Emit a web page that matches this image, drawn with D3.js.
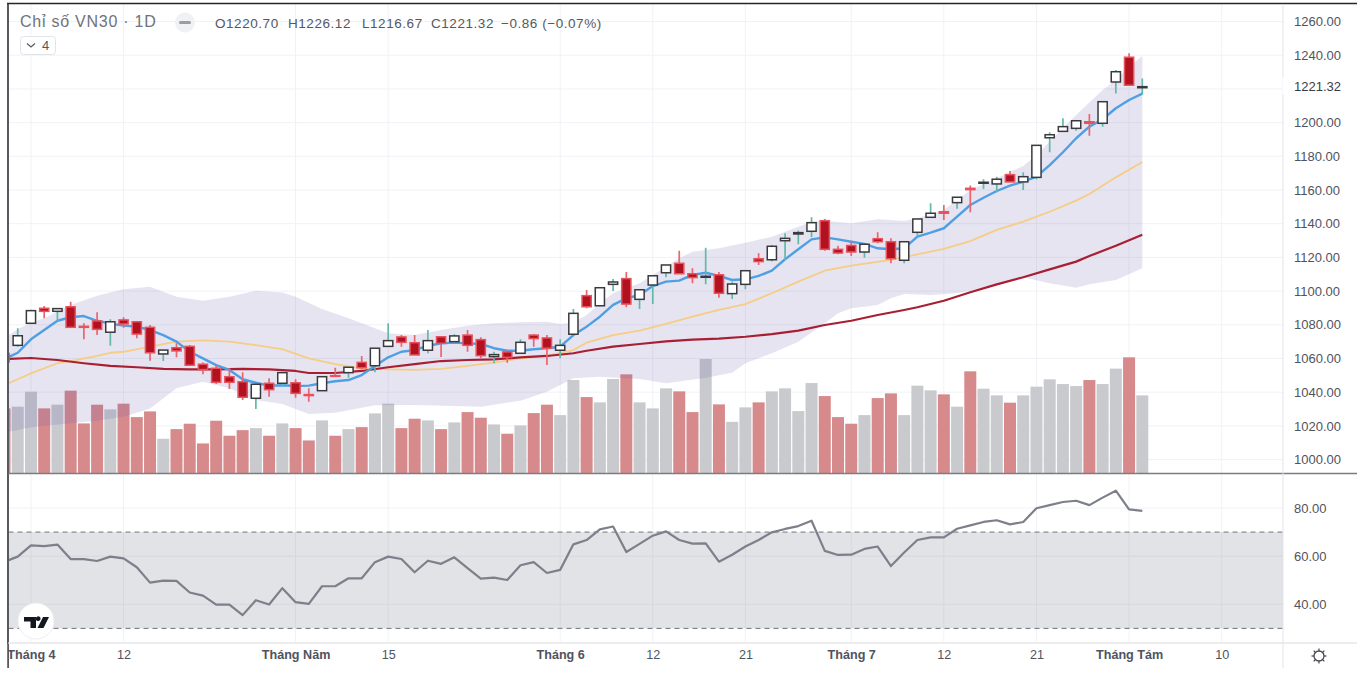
<!DOCTYPE html>
<html>

<head>
	<title>Chỉ số VN30</title>
	<style>
		html, body { margin: 0; padding: 0; background: #fff; overflow: hidden; }
		text { font-family: "Liberation Sans", Arial, sans-serif; }
	</style>
</head>

<body>
	<svg id="svg" width="1357" height="673"></svg>

	<script src="https://d3js.org/d3.v7.min.js"></script>
	<script>
		// Candles, index 0 is the session cut off by the left edge
		const opens = [1063,1067.8,1080.9,1089.8,1088.0,1090.7,1079.1,1082.3,1075.6,1082.9,1081.8,1078.5,1062.7,1066.4,1067.2,1056.6,1054.2,1049.2,1046.2,1036.4,1045.3,1045.3,1045.6,1038.6,1040.9,1049.8,1051.6,1057.7,1055.7,1067.2,1072.8,1069.4,1064.9,1072.9,1070.0,1073.9,1071.2,1061.1,1063.9,1063.1,1073.9,1072.2,1064.9,1074.4,1097.3,1091.3,1104.0,1107.4,1095.1,1103.6,1110.9,1116.5,1110.3,1108.2,1109.7,1098.5,1104.0,1119.2,1118.6,1129.9,1133.9,1135.5,1141.8,1124.8,1127.1,1123.2,1131.1,1129.3,1118.3,1134.9,1143.8,1147.1,1152.5,1161.0,1164.0,1163.6,1169.1,1164.8,1167.5,1191.0,1194.8,1196.6,1200.5,1199.6,1224.1,1238.8,1220.70]
		const highs = [1065,1077.9,1089.0,1091.2,1089.6,1093.7,1080.9,1087.4,1083.3,1084.5,1081.8,1079.9,1065.0,1069.0,1068.0,1057.7,1055.6,1054.2,1051.8,1044.7,1048.3,1051.6,1047.7,1042.3,1049.6,1054.5,1054.8,1061.5,1066.1,1080.9,1073.9,1073.9,1076.9,1072.9,1074.4,1076.9,1072.6,1064.0,1065.0,1071.4,1074.5,1073.9,1071.4,1089.4,1100.7,1102.3,1107.2,1111.3,1100.8,1109.1,1115.5,1124.0,1113.5,1125.8,1111.3,1105.6,1112.1,1122.4,1127.4,1134.3,1135.9,1143.8,1142.8,1126.9,1129.9,1127.8,1134.9,1131.3,1129.3,1142.8,1152.1,1151.1,1155.7,1162.6,1166.4,1167.9,1171.3,1170.5,1186.5,1194.3,1202.6,1201.1,1205.1,1212.4,1231.2,1241.1,1226.12]
		const lows = [1056,1067.0,1080.5,1083.9,1082.4,1078.5,1071.4,1073.9,1067.6,1078.3,1072.0,1058.7,1058.5,1060.7,1056.0,1050.6,1044.9,1041.9,1035.4,1030.0,1037.3,1043.7,1036.7,1034.4,1040.9,1049.2,1048.6,1053.6,1051.8,1067.2,1067.0,1062.1,1063.1,1060.9,1069.0,1064.0,1060.1,1057.2,1057.5,1063.1,1067.0,1056.1,1060.1,1074.4,1089.8,1091.0,1100.1,1090.4,1089.4,1092.3,1108.2,1110.3,1104.6,1104.0,1096.1,1095.3,1101.1,1115.5,1117.5,1118.5,1127.8,1131.9,1124.0,1121.8,1120.8,1119.8,1128.4,1116.5,1116.5,1132.9,1143.8,1142.2,1148.9,1146.8,1160.6,1158.6,1164.8,1160.0,1166.4,1182.4,1194.8,1195.2,1192.2,1197.6,1217.2,1221.9,1216.67]
		const closes = [1058,1073.5,1088.4,1088.0,1089.6,1078.5,1078.5,1077.3,1081.8,1080.5,1074.5,1063.4,1065.0,1064.5,1056.0,1053.4,1045.9,1045.9,1037.0,1044.7,1041.5,1051.6,1039.3,1038.0,1049.2,1049.4,1054.8,1054.5,1066.1,1070.6,1069.6,1062.1,1070.6,1069.0,1073.4,1067.8,1061.7,1062.3,1060.7,1069.6,1071.8,1066.1,1067.8,1086.8,1090.7,1102.0,1105.4,1092.3,1100.8,1109.1,1115.5,1110.3,1108.0,1108.8,1098.7,1104.2,1112.1,1117.5,1126.6,1131.3,1134.7,1140.6,1124.8,1122.6,1123.2,1127.8,1129.3,1119.2,1129.3,1142.8,1146.2,1146.2,1155.7,1160.2,1164.6,1166.4,1164.8,1167.9,1186.5,1192.8,1197.6,1201.1,1199.6,1212.4,1230.2,1222.18,1221.32]

		// Volume, relative units
		const volumes = [65,66.7,81.7,65,68.7,82.7,50,68.7,64,69.7,56.3,62,34.7,44.3,49.7,30,52.7,37.7,43.3,45.3,37.7,50,45.3,33,53,37.7,44.3,46.3,60,69.7,45.3,54.7,53,44.3,51,61.3,55.7,49,39.7,48,60.3,68.7,58.3,93.3,76.3,71,94.3,99,71,65,85,82,61.3,114.3,69,51.6,66,71,82,85,62.3,90.3,77.3,56.3,49.7,58.3,75.3,80,58.3,87.7,83,79,66.7,102,84.7,78,70.7,78,86.7,94,89.3,87.3,93.3,89.3,104.7,116,78]

		// Fast moving average, one value per session
		const maFast = [1059.7,1063.4,1071.4,1076.9,1082.4,1084.5,1085.2,1082.4,1080.7,1079.5,1078.9,1076.9,1073.9,1070.0,1064.0,1060.1,1056.1,1053.2,1047.7,1045.6,1043.9,1044.1,1043.7,1043.9,1045.3,1046.5,1047.2,1050.2,1055.6,1060.7,1064.0,1065.0,1067.6,1069.0,1069.4,1069.0,1068.6,1066.1,1064.6,1064.6,1065.5,1066.1,1067.0,1073.9,1078.9,1084.8,1091.8,1095.7,1097.7,1103.0,1105.6,1106.2,1109.6,1110.9,1109.0,1106.6,1107.0,1109.0,1112.1,1118.9,1124.8,1130.7,1131.9,1130.7,1129.3,1128.0,1125.4,1124.8,1125.4,1132.3,1134.7,1137.3,1144.2,1151.1,1155.4,1159.4,1162.6,1164.9,1167.9,1174.8,1182.4,1190.7,1197.6,1202.0,1208.5,1213.4,1217.2]

		// Slower averages and the band, read at the sessions listed beside them
		const maMidIdx = [0,1,2,3,4,5,7,8,9,11,13,15,17,19,21,23,25,27,29,31,33,35,37,39,41,43,44,46,48,50,52,54,56,58,60,62,64,67,69,71,73,75,77,79,81,82,84,86]
		const maMid = [1044.3,1047.7,1051.2,1054.2,1057.2,1058.5,1061.5,1063.4,1064.0,1067.0,1070.0,1070.8,1070.0,1068.0,1065.6,1060.1,1056.7,1054.2,1053.6,1053.2,1053.9,1055.6,1057.5,1060.1,1061.5,1065.0,1069.4,1073.9,1076.5,1080.5,1084.8,1088.8,1092.3,1098.7,1105.6,1112.1,1115.1,1118.5,1121.8,1125.0,1129.7,1136.3,1141.2,1147.1,1153.7,1157.6,1167.5,1176.6]

		const maSlowIdx = [0,2,4,6,8,10,12,14,16,18,20,22,23,25,27,29,31,33,35,37,39,41,43,44,46,48,50,52,54,56,58,60,62,64,66,68,69,71,73,75,77,79,81,82,84,86]
		const maSlow = [1059.7,1060.3,1059.1,1057.2,1055.6,1054.8,1053.8,1053.6,1053.6,1053.8,1053.6,1052.6,1051.4,1051.4,1052.6,1054.8,1056.7,1058.5,1059.1,1059.5,1060.7,1061.5,1063.1,1064.6,1067.0,1068.6,1070.2,1071.2,1071.8,1072.9,1074.5,1076.5,1079.9,1082.4,1085.8,1088.8,1090.4,1094.3,1099.3,1104.0,1108.2,1112.9,1117.5,1120.8,1126.9,1133.5]

		const bandUpIdx = [0,1,2,3,4,5,7,9,11,13,15,17,19,21,22,24,26,28,29,31,33,35,37,39,41,42,43,44,45,46,48,50,51,52,54,56,58,60,61,62,64,66,68,69,71,73,75,77,78,80,81,83,84,85,86]
		const bandUp = [1072.2,1077.3,1081.3,1083.9,1087.8,1091.8,1097.3,1101.1,1102.6,1096.7,1094.3,1096.7,1100.2,1099.1,1096.7,1089.4,1083.9,1077.9,1075.0,1073.9,1076.9,1079.5,1080.9,1081.5,1081.8,1080.5,1081.3,1085.8,1092.8,1098.7,1104.6,1114.5,1119.5,1123.4,1125.4,1128.7,1132.3,1138.2,1141.2,1141.8,1140.2,1142.6,1141.6,1143.2,1148.1,1160.0,1167.0,1174.3,1180.8,1196.6,1204.5,1219.4,1225.3,1233.2,1239.5]

		const bandLowIdx = [0,2,5,7,9,11,13,15,17,19,21,23,25,28,31,34,36,39,41,43,45,48,50,53,55,56,58,60,62,63,64,65,66,67,68,70,72,74,76,77,79,81,82,84,86]
		const bandLow = [1016.0,1019.2,1021.5,1023.1,1025.5,1030.4,1042.3,1046.2,1042.3,1035.4,1033.0,1027.1,1027.8,1032.2,1032.4,1031.8,1031.4,1035.0,1040.3,1048.3,1049.2,1047.8,1045.3,1048.6,1051.6,1057.2,1063.1,1070.0,1080.9,1086.8,1089.8,1090.7,1091.8,1095.7,1098.3,1097.7,1098.7,1101.7,1105.6,1108.2,1104.6,1102.0,1104.0,1106.6,1113.5]

		// RSI pane
		const rsi = [57.7,59.8,64.5,64.2,64.8,58.8,58.8,58.0,59.8,59.1,55.4,49.0,49.8,49.7,44.9,43.6,39.9,39.9,35.5,41.7,39.9,46.7,40.9,40.2,47.5,47.5,50.8,50.8,57.5,59.8,58.8,53.3,58.1,56.8,59.5,55.0,50.7,51.1,50.1,56.2,57.5,53.0,54.3,64.9,66.7,71.1,72.3,61.7,65.1,68.5,70.3,66.7,65.2,65.3,57.7,60.6,64.0,66.7,69.9,71.3,72.5,74.7,62.2,60.5,60.6,63.0,64.0,55.9,61.5,66.7,67.8,67.8,71.4,72.8,74.2,74.9,73.2,74.2,79.9,81.2,82.5,83.0,81.2,84.3,87.2,79.4,78.8]

		// Axis labels
		const priceTicks = [1000,1020,1040,1060,1080,1100,1120,1140,1160,1180,1200,1240,1260]
		const rsiTicks = [40,60,80]
		const rsiLevels = [70,30]
		const timeIdx = [2,9,22,29,42,49,56,64,71,78,85,92]
		const timeLabels = ['Tháng 4','12','Tháng Năm','15','Tháng 6','12','21','Tháng 7','12','21','Tháng Tám','10']
		const lastPrice = 1221.32

		const left = 8.5, right = 1283, paneBottom = 473.5, axisTop = 643

		const x = d3.scaleLinear().domain([0, 86]).range([4.5, 1142.3])
		const y = d3.scaleLinear().domain([1000, 1260]).range([459.6, 21.5])
		const yVol = d3.scaleLinear().domain([0, 116]).range([paneBottom, 357.3])
		const yRsi = d3.scaleLinear().domain([40, 80]).range([604.3, 508])

		const svg = d3.select('#svg')
		const defs = svg.append('defs')
		defs.append('clipPath').attr('id', 'plot').append('rect')
			.attr('x', left + 0.5).attr('y', 4).attr('width', right - left - 0.5).attr('height', paneBottom - 4)
		defs.append('clipPath').attr('id', 'plot2').append('rect')
			.attr('x', left + 0.5).attr('y', paneBottom).attr('width', right - left - 0.5).attr('height', axisTop - paneBottom)

		// Grid
		const grid = svg.append('g').attr('stroke', '#f0f2f6').attr('stroke-width', 1)
		grid.selectAll('.gy').data(priceTicks.concat([1220])).join('line')
			.attr('x1', left).attr('x2', right).attr('y1', d => y(d)).attr('y2', d => y(d))
		grid.selectAll('.gr').data(rsiTicks).join('line')
			.attr('x1', left).attr('x2', right).attr('y1', d => yRsi(d)).attr('y2', d => yRsi(d))
		grid.selectAll('.gx').data(timeIdx).join('line')
			.attr('x1', d => x(d)).attr('x2', d => x(d)).attr('y1', 4).attr('y2', axisTop)

		// Volume bars sit under the band
		const price = svg.append('g').attr('clip-path', 'url(#plot)')
		price.selectAll('.vol').data(volumes).join('rect')
			.attr('x', (d, i) => x(i) - 6).attr('width', 12)
			.attr('y', d => yVol(d)).attr('height', d => paneBottom - yVol(d))
			.attr('fill', (d, i) => closes[i] < opens[i] ? '#d78a8c' : '#c8cacd')

		// Bollinger band
		const ptLine = d3.line().x(d => x(d[0])).y(d => y(d[1]))
		const upPts = bandUpIdx.map((d, i) => [d, bandUp[i]])
		const lowPts = bandLowIdx.map((d, i) => [d, bandLow[i]]).reverse()
		price.append('path').attr('d', ptLine(upPts.concat(lowPts)) + 'Z')
			.attr('fill', 'rgb(98,84,170)').attr('fill-opacity', 0.16)

		// Moving averages
		function drawMa(idx, vals, color, w) {
			price.append('path').attr('d', ptLine(idx.map((d, i) => [d, vals[i]])))
				.attr('fill', 'none').attr('stroke', color).attr('stroke-width', w)
				.attr('stroke-linejoin', 'round')
		}
		drawMa(maMidIdx, maMid, '#f5cd84', 1.8)
		drawMa(maSlowIdx, maSlow, '#a81f33', 2.2)
		drawMa(maFast.map((d, i) => i), maFast, '#4f9fe4', 2.4)

		// Last price dotted line
		price.append('line').attr('x1', left).attr('x2', right)
			.attr('y1', y(lastPrice)).attr('y2', y(lastPrice))
			.attr('stroke', '#fff').attr('stroke-width', 1).attr('stroke-dasharray', '1 2')

		// Candles
		const candle = price.selectAll('.candle').data(opens.map((d, i) => i)).join('g')
		candle.append('line')
			.attr('x1', i => x(i)).attr('x2', i => x(i))
			.attr('y1', i => y(highs[i])).attr('y2', i => y(lows[i]))
			.attr('stroke', i => closes[i] < opens[i] ? '#ea6570' : '#62b9ab')
			.attr('stroke-width', 1.7)
		candle.append('rect')
			.attr('x', i => x(i) - 4.6).attr('width', 9.2)
			.attr('y', i => y(Math.max(opens[i], closes[i])))
			.attr('height', i => Math.max(0.6, Math.abs(y(opens[i]) - y(closes[i]))))
			.attr('fill', i => closes[i] < opens[i] ? '#b2121f' : '#fff')
			.attr('stroke', i => closes[i] < opens[i] ? '#e8535e' : '#3a3a3e')
			.attr('stroke-width', 1.5)

		// RSI pane
		const rsiG = svg.append('g').attr('clip-path', 'url(#plot2)')
		rsiG.append('rect')
			.attr('x', left).attr('width', right - left)
			.attr('y', yRsi(rsiLevels[0])).attr('height', yRsi(rsiLevels[1]) - yRsi(rsiLevels[0]))
			.attr('fill', '#707582').attr('fill-opacity', 0.2)
		rsiG.selectAll('.level').data(rsiLevels).join('line')
			.attr('x1', left).attr('x2', right).attr('y1', d => yRsi(d)).attr('y2', d => yRsi(d))
			.attr('stroke', '#6f7380').attr('stroke-width', 1).attr('stroke-dasharray', '5 4')
		rsiG.append('path')
			.attr('d', d3.line().x((d, i) => x(i)).y(d => yRsi(d))(rsi))
			.attr('fill', 'none').attr('stroke', '#7d7f8b').attr('stroke-width', 2.2)
			.attr('stroke-linejoin', 'round')

		// Frame
		const frame = svg.append('g')
		frame.append('line').attr('x1', 7).attr('x2', 1357).attr('y1', 3.5).attr('y2', 3.5).attr('stroke', '#26262b').attr('stroke-width', 1.5)
		frame.append('line').attr('x1', 8).attr('x2', 8).attr('y1', 3).attr('y2', 668).attr('stroke', '#2f3038').attr('stroke-width', 1.6)
		frame.append('line').attr('x1', left).attr('x2', 1357).attr('y1', paneBottom).attr('y2', paneBottom).attr('stroke', '#7c7d84').attr('stroke-width', 1.5)
		frame.append('line').attr('x1', left).attr('x2', 1357).attr('y1', axisTop).attr('y2', axisTop).attr('stroke', '#ededf0').attr('stroke-width', 2)
		frame.append('line').attr('x1', right).attr('x2', right).attr('y1', 4).attr('y2', 668).attr('stroke', '#e2e3e8').attr('stroke-width', 1)

		// Price axis
		function styleAxis(g, size) {
			g.select('.domain').remove()
			g.selectAll('.tick line').remove()
			g.selectAll('.tick text').attr('fill', '#50535e').style('font-size', size + 'px')
		}
		svg.append('g').attr('transform', `translate(${1294 - 3},0)`)
			.call(d3.axisRight(y).tickValues(priceTicks).tickFormat(d3.format('.2f')).tickSize(0))
			.call(g => styleAxis(g, 13))
		svg.append('g').attr('transform', `translate(${1294 - 3},0)`)
			.call(d3.axisRight(yRsi).tickValues(rsiTicks).tickFormat(d3.format('.2f')).tickSize(0))
			.call(g => styleAxis(g, 13))

		// Last price label
		svg.append('rect').attr('x', right - 0.5).attr('width', 74).attr('y', y(lastPrice) - 9.5).attr('height', 17).attr('fill', '#fff')
		svg.append('text').attr('x', 1294).attr('y', y(lastPrice) + 4.5).text(d3.format('.2f')(lastPrice))
			.attr('fill', '#3a3d47').style('font-size', '13px')

		// Time axis
		const timeG = svg.append('g').attr('transform', `translate(0,${axisTop + 1})`)
			.call(d3.axisBottom(x).tickValues(timeIdx).tickFormat((d, i) => timeLabels[i]).tickSize(0).tickPadding(6))
			.call(g => styleAxis(g, 12.6))
		timeG.selectAll('.tick text')
			.attr('font-weight', (d, i) => timeLabels[i].startsWith('Tháng') ? 'bold' : 'normal')
		svg.append('rect').attr('x', 0).attr('y', 644).attr('width', 7.2).attr('height', 29).attr('fill', '#fff')

		// Legend
		const legend = svg.append('g')
		legend.append('text').attr('x', 20).attr('y', 27).text('Chỉ số VN30 · 1D').attr('fill', '#6f727d')
			.style('font-size', '16px').style('letter-spacing', '0.75px')
		legend.append('circle').attr('cx', 185).attr('cy', 22.5).attr('r', 10).attr('fill', '#f0f1f3')
		legend.append('rect').attr('x', 179).attr('y', 21).attr('width', 12).attr('height', 3).attr('rx', 1.5).attr('fill', '#9a9ca4')
		const ohlc = [['O1220.70', 215], ['H1226.12', 288], ['L1216.67', 362], ['C1221.32', 431], ['−0.86 (−0.07%)', 501]]
		legend.selectAll('.ohlc').data(ohlc).join('text')
			.attr('x', d => d[1]).attr('y', 27.5).text(d => d[0]).attr('fill', '#55585f')
			.style('font-size', '13.5px').style('letter-spacing', '0.55px')
		legend.append('rect').attr('x', 20.5).attr('y', 36.5).attr('width', 35).attr('height', 18).attr('rx', 3)
			.attr('fill', '#fff').attr('stroke', '#e2e3e8')
		legend.append('path').attr('d', 'M27 43.5l4 3.5 4-3.5').attr('fill', 'none').attr('stroke', '#55585f').attr('stroke-width', 1.2)
		legend.append('text').attr('x', 42).attr('y', 50).text('4').attr('fill', '#55585f').style('font-size', '13px')

		// TradingView mark
		const mark = svg.append('g')
		mark.append('circle').attr('cx', 36).attr('cy', 621).attr('r', 18).attr('fill', '#fff').attr('stroke', '#eceef1')
		mark.append('path').attr('fill', '#131722')
			.attr('d', 'M24 617h12v11h-5.5v-6.5H24zM37.5 621a2.4 2.4 0 1 0 0-4.6 2.4 2.4 0 0 0 0 4.6zM43 617h6l-5.5 11h-6z')

		// Settings icon
		const gear = svg.append('g').attr('transform', 'translate(1319,656)').attr('stroke', '#444750').attr('fill', 'none')
		gear.append('circle').attr('r', 5).attr('stroke-width', 1.3)
		gear.selectAll('line').data(d3.range(8)).join('line')
			.attr('x1', 0).attr('x2', 0).attr('y1', 5).attr('y2', 7.5).attr('stroke-width', 1.2)
			.attr('transform', d => `rotate(${d * 45})`)
	</script>
</body>
</html>
